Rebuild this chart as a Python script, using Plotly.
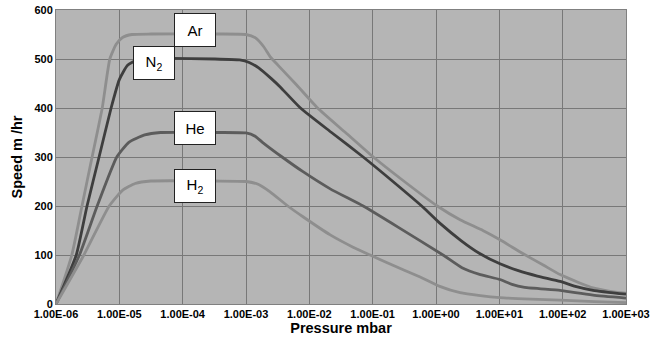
import plotly.graph_objects as go

# log10(pressure in mbar) and speed (m/hr)
ar_lgp = [-6, -5.75, -5.59, -5.43, -5.27, -5.15, -5.05, -4.95, -4.8, -4.5, -3.5, -3.0, -2.85, -2.72, -2.62, -2.5,
          -2.2, -1.87, -1.43, -0.99, -0.5, 0.02, 0.38, 0.74, 1.01, 1.37, 1.7, 1.96, 2.25, 2.48, 2.75, 3.0]
ar_speed = [0, 100, 200, 300, 400, 500, 530, 544, 550, 551, 551, 550, 543, 525, 505, 488,
            447, 400, 350, 300, 250, 200, 172, 150, 131, 103, 79, 60, 44, 33, 26, 22]

n2_lgp = [-6, -5.68, -5.51, -5.32, -5.13, -5.0, -4.87, -4.7, -4.4, -3.5, -3.1, -2.95, -2.8, -2.6, -2.46,
          -2.14, -1.65, -1.15, -0.68, -0.2, 0.06, 0.4, 0.69, 1.01, 1.3, 1.6, 1.96, 2.2, 2.48, 3.0]
n2_speed = [0, 100, 200, 300, 400, 458, 487, 499, 501, 500, 498, 493, 482, 460, 443,
            400, 350, 300, 250, 197, 165, 129, 103, 82, 68, 57, 46, 36, 28, 20]

he_lgp = [-6, -5.63, -5.35, -5.04, -4.85, -4.6, -4.35, -3.5, -3.0, -2.85, -2.73, -2.43, -2.1, -1.67, -1.15,
          -0.6, 0.11, 0.41, 0.7, 1.01, 1.2, 1.4, 1.96, 2.2, 2.48, 3.0]
he_speed = [0, 100, 200, 300, 330, 345, 350, 350, 349, 342, 329, 300, 270, 235, 200,
            157, 100, 74, 60, 50, 40, 34, 28, 23, 18, 12]

h2_lgp = [-6, -5.56, -5.16, -4.95, -4.75, -4.5, -3.5, -3.0, -2.8, -2.62, -2.34, -2.1, -1.67, -1.31, -1.04,
          -0.77, -0.25, 0.06, 0.38, 0.7, 1.01, 1.5, 1.96, 2.5, 3.0]
h2_speed = [0, 100, 200, 232, 246, 251, 251, 250, 244, 229, 200, 178, 141, 116, 100,
            84, 55, 36, 23, 17, 13, 10, 8, 5, 3]

tick_exp = [-6, -5, -4, -3, -2, -1, 0, 1, 2, 3]
tick_text = ["1.00E-06", "1.00E-05", "1.00E-04", "1.00E-03", "1.00E-02",
             "1.00E-01", "1.00E+00", "1.00E+01", "1.00E+02", "1.00E+03"]

labels = [("Ar", -3.805, 559), ("N<sub>2</sub>", -4.453, 492),
          ("He", -3.805, 359), ("H<sub>2</sub>", -3.805, 241)]

series = [
    ("Ar", ar_lgp, ar_speed, "#8e8e8e"),
    ("N2", n2_lgp, n2_speed, "#3e3e3e"),
    ("He", he_lgp, he_speed, "#5c5c5c"),
    ("H2", h2_lgp, h2_speed, "#8e8e8e"),
]

fig = go.Figure()
for name, lg, sp, col in series:
    fig.add_trace(go.Scatter(
        x=[10 ** v for v in lg], y=sp, mode="lines", name=name,
        line=dict(color=col, width=2.8, shape="spline", smoothing=0.5),
        showlegend=False,
    ))

for txt, lx, ly in labels:
    fig.add_annotation(
        x=lx, y=ly, xref="x", yref="y", text=txt, showarrow=False,
        font=dict(family="Liberation Sans", size=15, color="black"),
        bgcolor="white", bordercolor="#222222", borderwidth=1,
        width=34, height=26, borderpad=3,
    )

fig.update_layout(
    width=661, height=341,
    margin=dict(l=56, r=35, t=10, b=37),
    paper_bgcolor="white", plot_bgcolor="#b5b5b5",
    font=dict(family="Liberation Sans", color="black"),
)
fig.update_xaxes(
    type="log", range=[-6, 3], automargin=False,
    tickvals=[10 ** e for e in tick_exp], ticktext=tick_text,
    tickfont=dict(size=11, weight="bold"),
    showgrid=True, gridcolor="#787878", gridwidth=1,
    showline=True, linecolor="#808080", linewidth=1, mirror=True,
    ticks="", zeroline=False,
    title=dict(text="Pressure mbar", font=dict(size=14.5, weight="bold"), standoff=2),
)
fig.update_yaxes(
    range=[0, 600], dtick=100, automargin=False,
    tickfont=dict(size=11, weight="bold"),
    showgrid=True, gridcolor="#787878", gridwidth=1,
    showline=True, linecolor="#808080", linewidth=1, mirror=True,
    ticks="", zeroline=False,
    title=dict(text="Speed m /hr", font=dict(size=14.5, weight="bold"), standoff=8),
)

# remove the page's default body margin so the figure sits at the window's corner
fig.write_html("out.html", config={"displayModeBar": False},
               post_script="document.body.style.margin='0';")
